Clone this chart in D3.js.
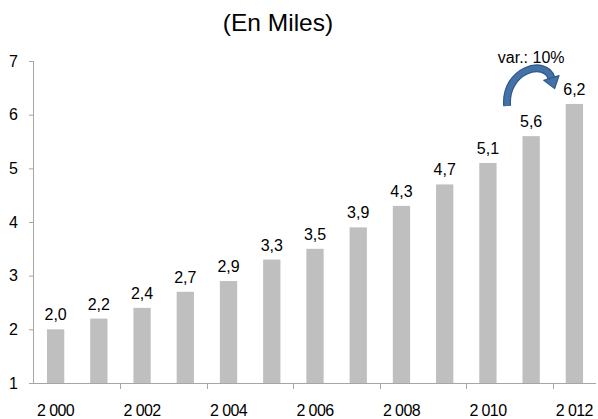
<!DOCTYPE html>
<html>
<head>
<meta charset="utf-8">
<script src="https://cdn.jsdelivr.net/npm/d3@7"></script>
<style>
  html, body { margin: 0; padding: 0; background: #fff; }
  svg { display: block; font-family: "Liberation Sans", Arial, sans-serif; }
</style>
</head>
<body>
<svg id="chart" width="598" height="419"></svg>
<script>
// Yearly totals, in thousands
const years = ["2 000", "2 001", "2 002", "2 003", "2 004", "2 005", "2 006",
               "2 007", "2 008", "2 009", "2 010", "2 011", "2 012"];
const values = [2.0, 2.2, 2.4, 2.7, 2.9, 3.3, 3.5, 3.9, 4.3, 4.7, 5.1, 5.6, 6.2];
const yTicks = [1, 2, 3, 4, 5, 6, 7];
const title = "(En Miles)";
const note = "var.: 10%";

const svg = d3.select("#chart");
const plotLeft = 34, plotRight = 596, plotTop = 61, plotBottom = 383;

const x = d3.scaleBand().domain(years).range([plotLeft, plotRight]).paddingInner(0.6).paddingOuter(0.3);
const y = d3.scaleLinear().domain([1, 7]).range([plotBottom, plotTop]);

const fmt = v => d3.format(".1f")(v).replace(".", ",");
const axisColor = "#a6a6a6";

// Title
svg.append("text")
  .attr("x", 278).attr("y", 31)
  .attr("text-anchor", "middle")
  .attr("font-size", 24.5)
  .attr("fill", "#000")
  .text(title);

// Bars
svg.append("g").selectAll("rect").data(values).join("rect")
  .attr("x", (d, i) => x(years[i]))
  .attr("y", d => y(d))
  .attr("width", x.bandwidth())
  .attr("height", d => y(1) - y(d))
  .attr("fill", "#bfbfbf");

// Value labels
svg.append("g").selectAll("text").data(values).join("text")
  .attr("x", (d, i) => x(years[i]) + x.bandwidth() / 2)
  .attr("y", d => y(d) - 9)
  .attr("text-anchor", "middle")
  .attr("font-size", 16)
  .attr("fill", "#000")
  .text(fmt);

// Y axis
const yAxis = svg.append("g")
  .attr("transform", `translate(${plotLeft},0)`)
  .call(d3.axisLeft(y).tickValues(yTicks).tickSize(5).tickPadding(11).tickFormat(d3.format("d")));
yAxis.select(".domain").attr("stroke", axisColor).attr("d", `M-0.5,${plotTop}V${plotBottom}`);
yAxis.selectAll(".tick line").attr("stroke", axisColor);
yAxis.selectAll(".tick text").attr("font-size", 16).attr("fill", "#000")
  .attr("font-family", "Liberation Sans, Arial, sans-serif");

// X axis: ticks every second category boundary, labels on even years
const step = x.step();
const boundaries = d3.range(2, years.length + 1, 2).map(i => plotLeft + i * step);
const xg = svg.append("g");
xg.append("line")
  .attr("x1", plotLeft).attr("x2", plotRight)
  .attr("y1", plotBottom + 0.5).attr("y2", plotBottom + 0.5)
  .attr("stroke", axisColor);
xg.selectAll("line.tk").data(boundaries.filter(b => b < plotRight - 1)).join("line")
  .attr("class", "tk")
  .attr("x1", d => Math.round(d) + 0.5).attr("x2", d => Math.round(d) + 0.5)
  .attr("y1", plotBottom).attr("y2", plotBottom + 6)
  .attr("stroke", axisColor);
xg.selectAll("text").data(years.filter((d, i) => i % 2 === 0)).join("text")
  .attr("x", d => x(d) + x.bandwidth() / 2)
  .attr("y", 416)
  .attr("text-anchor", "middle")
  .attr("font-size", 16)
  .attr("letter-spacing", "-0.6")
  .attr("fill", "#000")
  .text(d => d);

// Growth annotation: curved arrow from the 2011 bar over to the 2012 bar
const a0 = x(years[11]) + x.bandwidth() / 2;
const a1 = x(years[12]) + x.bandwidth() / 2;
svg.append("text")
  .attr("x", a0).attr("y", 63)
  .attr("text-anchor", "middle")
  .attr("font-size", 16)
  .attr("fill", "#000")
  .text(note);

const p0 = [a0 - 24, 106], c1 = [a0 - 27, 70], c2 = [a0 + 14, 58], p1 = [a1 - 23, 78];
const arrowPath = `M${p0}C${c1} ${c2} ${p1}`;
svg.append("path")
  .attr("d", arrowPath)
  .attr("fill", "none")
  .attr("stroke", "#2f5a8a")
  .attr("stroke-width", 8);
svg.append("path")
  .attr("d", arrowPath)
  .attr("fill", "none")
  .attr("stroke", "#4472a8")
  .attr("stroke-width", 5.5);

// Arrow head aligned to the end tangent of the curve
const dx = p1[0] - c2[0], dy = p1[1] - c2[1];
const len = Math.hypot(dx, dy), ux = dx / len, uy = dy / len;
const px = -uy, py = ux;
const headLen = 11, headHalf = 8;
const tip = [p1[0] + ux * headLen, p1[1] + uy * headLen];
const b1 = [p1[0] + px * headHalf, p1[1] + py * headHalf];
const b2 = [p1[0] - px * headHalf, p1[1] - py * headHalf];
svg.append("path")
  .attr("d", `M${b1}L${tip}L${b2}Z`)
  .attr("fill", "#4472a8")
  .attr("stroke", "#2f5a8a")
  .attr("stroke-width", 1.2)
  .attr("stroke-linejoin", "round");
</script>
</body>
</html>
